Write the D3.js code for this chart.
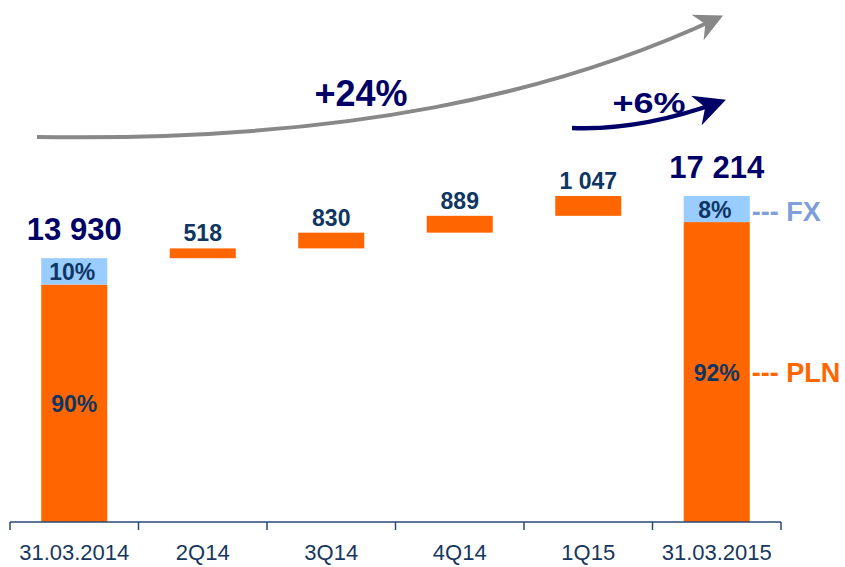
<!DOCTYPE html>
<html>
<head>
<meta charset="utf-8">
<script src="https://cdn.jsdelivr.net/npm/d3@7"></script>
<style>
  body { margin: 0; background: #fff; }
  svg { font-family: Arial, "Liberation Sans", sans-serif; }
</style>
</head>
<body>
<div id="chart"></div>
<script>
// data
var categories = ["31.03.2014", "2Q14", "3Q14", "4Q14", "1Q15", "31.03.2015"];
var values = [13930, 518, 830, 889, 1047, 17214];
var isTotal = [true, false, false, false, false, true];
var fxShare = [0.10, null, null, null, null, 0.08];
var valueLabels = ["13 930", "518", "830", "889", "1 047", "17 214"];
var fxLabels = ["10%", "", "", "", "", "8%"];
var plnLabels = ["90%", "", "", "", "", "92%"];
var growthLabels = ["+24%", "+6%"];

var width = 845, height = 567;
var orange = "#FF6600", lightBlue = "#99CCFF", navy = "#000066", darkBlue = "#0E3663";

var svg = d3.select("#chart").append("svg")
  .attr("width", width)
  .attr("height", height);

var x = d3.scaleBand()
  .domain(categories)
  .range([10, 781])
  .paddingInner(0.486)
  .paddingOuter(0.243);

var y = d3.scaleLinear()
  .domain([0, 17214])
  .range([522, 196]);

//build the waterfall steps
var bars = [];
var running = 0;
categories.forEach(function(c, i) {
  var start, end;
  if (isTotal[i]) { start = 0; end = values[i]; running = values[i]; }
  else { start = running; end = running + values[i]; running = end; }
  bars.push({cat: c, start: start, end: end, total: isTotal[i], fx: fxShare[i],
    label: valueLabels[i], fxLabel: fxLabels[i], plnLabel: plnLabels[i]});
});

var g = svg.selectAll(".bar")
  .data(bars)
  .enter().append("g")
  .attr("class", "bar");

// orange part (PLN or delta)
g.append("rect")
  .attr("x", function(d) { return x(d.cat); })
  .attr("width", x.bandwidth())
  .attr("y", function(d) { return y(d.total ? d.end * (1 - d.fx) : d.end); })
  .attr("height", function(d) {
    return d.total ? y(0) - y(d.end * (1 - d.fx)) : y(d.start) - y(d.end);
  })
  .style("fill", orange);

// FX part on the total bars
g.filter(function(d) { return d.total; })
  .append("rect")
  .attr("x", function(d) { return x(d.cat); })
  .attr("width", x.bandwidth())
  .attr("y", function(d) { return y(d.end); })
  .attr("height", function(d) { return y(d.end * (1 - d.fx)) - y(d.end); })
  .style("fill", lightBlue);

// value labels above bars
g.append("text")
  .attr("x", function(d) { return x(d.cat) + x.bandwidth() / 2; })
  .attr("y", function(d) { return y(d.end) - (d.total ? 18 : 7); })
  .attr("text-anchor", "middle")
  .style("font-weight", "bold")
  .style("font-size", function(d) { return d.total ? "31px" : "23px"; })
  .style("fill", function(d) { return d.total ? navy : darkBlue; })
  .text(function(d) { return d.label; });

// percentage labels inside total bars
var tot = g.filter(function(d) { return d.total; });
tot.append("text")
  .attr("x", function(d) { return x(d.cat) + x.bandwidth() / 2 - 2; })
  .attr("y", function(d) { return (y(d.end) + y(d.end * (1 - d.fx))) / 2 + 9; })
  .attr("text-anchor", "middle")
  .style("font-weight", "bold")
  .style("font-size", "23px")
  .style("fill", darkBlue)
  .text(function(d) { return d.fxLabel; });

tot.append("text")
  .attr("x", function(d) { return x(d.cat) + x.bandwidth() / 2; })
  .attr("y", function(d) { return (y(0) + y(d.end * (1 - d.fx))) / 2 + 9; })
  .attr("text-anchor", "middle")
  .style("font-weight", "bold")
  .style("font-size", "23px")
  .style("fill", darkBlue)
  .text(function(d) { return d.plnLabel; });

// legend next to the last bar
var last = bars[bars.length - 1];
var lx = x(last.cat) + x.bandwidth() + 2;
svg.append("text")
  .attr("x", lx)
  .attr("y", (y(last.end) + y(last.end * (1 - last.fx))) / 2 + 12)
  .style("font-weight", "bold")
  .style("font-size", "27px")
  .style("fill", "#7F9FDA")
  .text("--- FX");
svg.append("text")
  .attr("x", lx)
  .attr("y", (y(0) + y(last.end * (1 - last.fx))) / 2 + 10)
  .style("font-weight", "bold")
  .style("font-size", "27px")
  .style("fill", orange)
  .text("--- PLN");

// axis
var axisColor = "#2A4A73";
svg.append("line")
  .attr("x1", x.range()[0]).attr("x2", x.range()[1])
  .attr("y1", y(0)).attr("y2", y(0))
  .style("stroke", axisColor).style("stroke-width", 1.5);

var step = x.step();
var tickPos = categories.map(function(c) { return x(c) + x.bandwidth() / 2 - step / 2; });
tickPos.push(x.range()[1]);
svg.selectAll(".tick")
  .data(tickPos)
  .enter().append("line")
  .attr("x1", function(d) { return d; }).attr("x2", function(d) { return d; })
  .attr("y1", y(0)).attr("y2", y(0) + 8)
  .style("stroke", axisColor).style("stroke-width", 1.5);

svg.selectAll(".xlabel")
  .data(categories)
  .enter().append("text")
  .attr("x", function(d) { return x(d) + x.bandwidth() / 2; })
  .attr("y", 560)
  .attr("text-anchor", "middle")
  .style("font-size", "22px")
  .style("fill", "#17375E")
  .text(function(d) { return d; });

// growth arrows
var defs = svg.append("defs");
function marker(id, color) {
  defs.append("marker")
    .attr("id", id)
    .attr("viewBox", "0 0 10 10")
    .attr("refX", 8).attr("refY", 5)
    .attr("markerWidth", 7).attr("markerHeight", 7)
    .attr("markerUnits", "strokeWidth")
    .attr("orient", "auto")
    .append("path")
    .attr("d", "M0,0 L10,5 L0,10 L3,5 Z")
    .style("fill", color);
}
marker("grayHead", "#888888");
marker("navyHead", navy);

svg.append("path")
  .attr("d", "M37,137 C350,142 560,92 718,18")
  .style("fill", "none")
  .style("stroke", "#888888")
  .style("stroke-width", 4)
  .attr("marker-end", "url(#grayHead)");

svg.append("path")
  .attr("d", "M572,128 C620,130 670,120 720,102")
  .style("fill", "none")
  .style("stroke", navy)
  .style("stroke-width", 4.5)
  .attr("marker-end", "url(#navyHead)");

svg.append("text")
  .attr("x", 361).attr("y", 106)
  .attr("text-anchor", "middle")
  .style("font-weight", "bold")
  .style("font-size", "36px")
  .style("fill", navy)
  .text(growthLabels[0]);

svg.append("text")
  .attr("transform", "translate(649,113) scale(1,0.82)")
  .attr("text-anchor", "middle")
  .style("font-weight", "bold")
  .style("font-size", "36px")
  .style("fill", navy)
  .text(growthLabels[1]);
</script>
</body>
</html>
